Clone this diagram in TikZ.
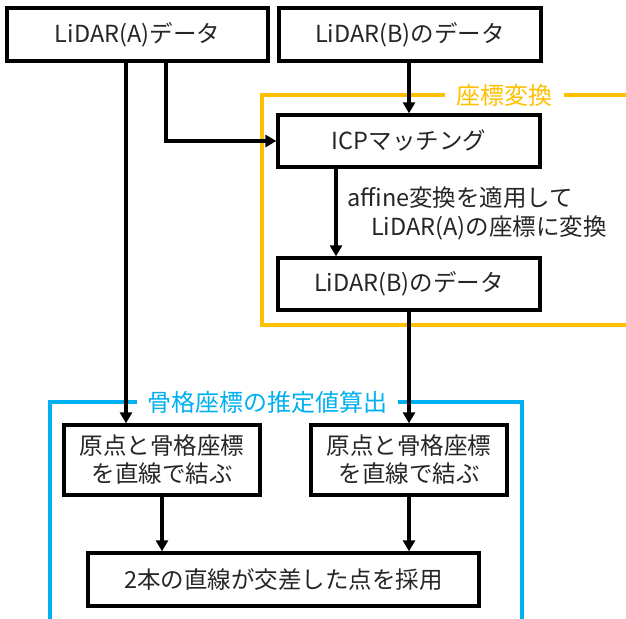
\documentclass[tikz,border=0pt]{standalone}
\usepackage{fontspec}
\setmainfont{Noto Sans CJK JP}
\usetikzlibrary{arrows.meta,calc}
\definecolor{frameorange}{HTML}{FFC000}
\definecolor{frameblue}{HTML}{00B0F0}
\begin{document}
\begin{tikzpicture}[x=1pt,y=-1pt,
  box/.style={draw=black,line width=3.3pt,fill=white,inner sep=0pt,align=center,
    font=\fontsize{23.5}{28}\selectfont,text=black!85},
  arr/.style={line width=3.3pt,-{Triangle[length=11pt,width=12pt]}},
  lab/.style={font=\fontsize{23.5}{30}\selectfont,text=black!85,inner sep=0pt,anchor=west},
  framelab/.style={font=\fontsize{24}{28}\selectfont,inner sep=0pt,fill=white}]
\useasboundingbox (0,0) rectangle (626,618);
% frames
\draw[frameorange,line width=3.3pt] (445,95) -- (262,95) -- (262,325) -- (630,325);
\draw[frameorange,line width=3.3pt] (564,95) -- (630,95);
\node[framelab,text=frameorange] (tf) at (504,95) {座標変換};
\draw[frameblue,line width=3.3pt] (137,402) -- (50,402) -- (50,625);
\draw[frameblue,line width=3.3pt] (398,402) -- (522,402) -- (522,625);
\node[framelab,text=frameblue] (ef) at (267,402) {骨格座標の推定値算出};
% nodes
\node[box,minimum width=261,minimum height=53] (a) at (137.5,34.5) {LiDAR(A)データ};
\node[box,minimum width=262,minimum height=53] (b) at (410,34.5) {LiDAR(B)のデータ};
\node[box,minimum width=262,minimum height=52] (icp) at (409,141) {ICPマッチング};
\node[box,minimum width=262,minimum height=52] (b2) at (409,284) {LiDAR(B)のデータ};
\node[box,minimum width=196,minimum height=70] (l) at (162,460) {原点と骨格座標\\を直線で結ぶ};
\node[box,minimum width=196,minimum height=70] (r) at (409,460) {原点と骨格座標\\を直線で結ぶ};
\node[box,minimum width=391,minimum height=53] (res) at (283.5,579.5) {2本の直線が交差した点を採用};
\node[lab] (t1) at (347,198) {affine変換を適用して};
\node[lab] (t2) at (371,228) {LiDAR(A)の座標に変換};
% helper coordinates
\coordinate (xa) at (126,0);
\coordinate (xb) at (166,0);
\coordinate (xc) at (336,0);
% connectors
\draw[arr] (a.south -| xa) -- (l.north -| xa);
\draw[arr] (a.south -| xb) |- (icp.west);
\draw[arr] (b.south -| icp.north) -- (icp.north);
\draw[arr] (icp.south -| xc) -- (b2.north -| xc);
\draw[arr] (b2.south) -- (b2.south |- r.north);
\draw[arr] (l.south) -- (l.south |- res.north);
\draw[arr] (r.south) -- (r.south |- res.north);
\end{tikzpicture}
\end{document}
